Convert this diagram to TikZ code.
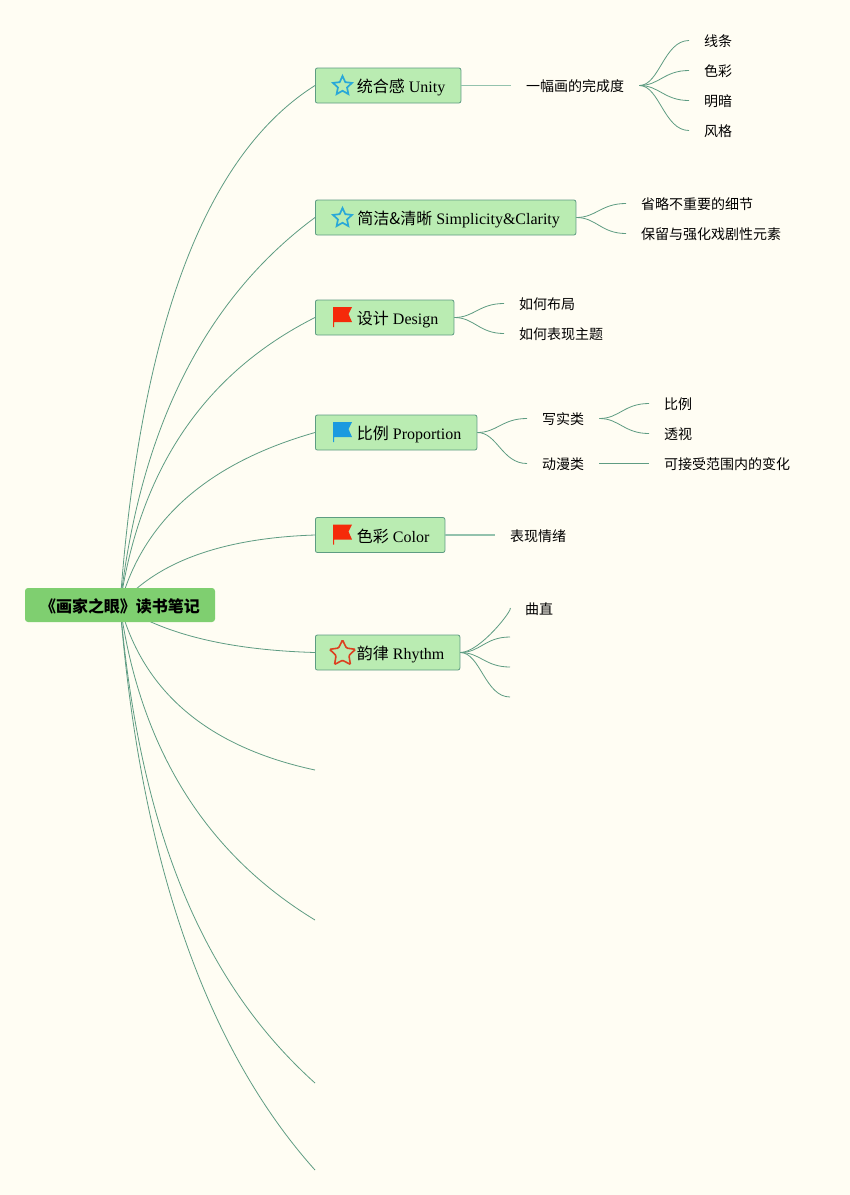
\documentclass[tikz,border=0pt]{standalone}
\usepackage{fontspec}
\setmainfont{Liberation Serif}
\newfontfamily\cjk{Noto Sans CJK SC}
\usetikzlibrary{shapes.geometric,calc}
\definecolor{bgc}{HTML}{FFFDF3}
\definecolor{linec}{HTML}{5E9C82}
\definecolor{stubc}{HTML}{93C2AD}
\definecolor{rootc}{HTML}{7FCF70}
\definecolor{topicc}{HTML}{BAECB2}
\definecolor{starblue}{HTML}{2AA8D8}
\definecolor{starred}{HTML}{DC4020}
\definecolor{flagred}{HTML}{F52A0A}
\definecolor{flagblue}{HTML}{1B9AE0}
\tikzset{
  x=1pt,y=-1pt,
  conn/.style={draw=linec,line width=0.8pt},
  stub/.style={draw=stubc,line width=1.2pt},
  rootbox/.style={fill=rootc,rounded corners=3pt,minimum width=190pt,minimum height=34pt,inner sep=0pt,text height=15pt,text depth=1pt,font=\fontsize{16}{16}\selectfont\cjk\bfseries},
  topicbox/.style={anchor=west,draw=linec,fill=topicc,line width=0.8pt,rounded corners=2pt,minimum height=35pt,inner sep=0pt,align=left,text height=15.4pt,text depth=1pt,font=\fontsize{16}{16}\selectfont},
  leaf/.style={anchor=west,inner xsep=15pt,inner ysep=2pt,text height=13.6pt,text depth=1pt,font=\fontsize{14}{14}\selectfont\cjk},
  starblueicon/.style={star,star points=5,star point ratio=2.1,draw=starblue,line width=1.7pt,minimum size=20pt,inner sep=0pt},
  starredicon/.style={star,star points=5,star point ratio=2.0,draw=starred,line width=1.6pt,rounded corners=1pt,minimum size=27pt,inner sep=0pt},
}
\newcommand{\flagicon}[3]{% x, y centre, colour
  \fill[#3] (#1-9.5,#2-10) -- (#1+9.5,#2-10) -- (#1+6,#2-3) -- (#1+9.5,#2+5) -- (#1-8.5,#2+5) -- (#1-8.5,#2+10) -- (#1-9.5,#2+10) -- cycle;
}
\begin{document}
\begin{tikzpicture}
\useasboundingbox[fill=bgc] (0,0) rectangle (850,1195);
% named free ends
\coordinate (e1) at (315,770);
\coordinate (e2) at (315,920);
\coordinate (e3) at (315,1083);
\coordinate (e4) at (315,1170);
\coordinate (r1) at (510,637);
\coordinate (r2) at (510,667);
\coordinate (r3) at (510,697);
\coordinate (hub) at (120,605);
% topics
\node[topicbox,minimum width=145.5pt] (t1) at (315,85.5) {\hspace{34pt}{\cjk 统合感} Unity\hspace{8pt}};
\node[topicbox,minimum width=260.5pt] (t2) at (315,217.5) {\hspace{34pt}{\cjk 简洁\&清晰} Simplicity\&Clarity\hspace{8pt}};
\node[topicbox,minimum width=138.5pt] (t3) at (315,317.5) {\hspace{34pt}{\cjk 设计} Design\hspace{8pt}};
\node[topicbox,minimum width=161.5pt] (t4) at (315,432.5) {\hspace{34pt}{\cjk 比例} Proportion\hspace{8pt}};
\node[topicbox,minimum width=129.5pt] (t5) at (315,535) {\hspace{34pt}{\cjk 色彩} Color\hspace{8pt}};
\node[topicbox,minimum width=144.5pt] (t6) at (315,652.5) {\hspace{34pt}{\cjk 韵律} Rhythm\hspace{8pt}};
% leaves
\node[leaf] (a) at (511,85.5) {一幅画的完成度};
\node[leaf] (a1) at (689,40.5) {线条};
\node[leaf] (a2) at (689,70.5) {色彩};
\node[leaf] (a3) at (689,100.5) {明暗};
\node[leaf] (a4) at (689,130.5) {风格};
\node[leaf] (b1) at (626,203.5) {省略不重要的细节};
\node[leaf] (b2) at (626,233.5) {保留与强化戏剧性元素};
\node[leaf] (c1) at (504,303.5) {如何布局};
\node[leaf] (c2) at (504,333.5) {如何表现主题};
\node[leaf] (d1) at (527,418.5) {写实类};
\node[leaf] (d2) at (527,463.5) {动漫类};
\node[leaf] (d11) at (649,403.5) {比例};
\node[leaf] (d12) at (649,433.5) {透视};
\node[leaf] (d21) at (649,463.5) {可接受范围内的变化};
\node[leaf] (f) at (495,535) {表现情绪};
\node[leaf] (g) at (510,608) {曲直};
% root connectors, drawn under the root
\draw[conn] (hub) .. controls (140,328) and (205,155) .. (t1.west);
\draw[conn] (hub) .. controls (140,428) and (205,299) .. (t2.west);
\draw[conn] (hub) .. controls (140,468) and (205,373) .. (t3.west);
\draw[conn] (hub) .. controls (143,520) and (208,463) .. (t4.west);
\draw[conn] (hub) .. controls (157,562) and (222,538) .. (t5.west);
\draw[conn] (hub) .. controls (163,634) and (228,650) .. (t6.west);
\draw[conn] (hub) .. controls (143,692) and (208,747) .. (e1);
\draw[conn] (hub) .. controls (140,748) and (205,853) .. (e2);
\draw[conn] (hub) .. controls (140,835) and (205,984) .. (e3);
\draw[conn] (hub) .. controls (140,858) and (205,1047) .. (e4);
\node[rootbox] (root) at (120,605) {《画家之眼》读书笔记};
% topic connectors
\draw[stub] (t1.east) -- (a.west);
\foreach \n in {a1,a2,a3,a4}{\draw[conn] (a.east) .. controls +(20,0) and ($(\n.west)+(-25,0)$) .. (\n.west);}
\foreach \n in {b1,b2}{\draw[conn] (t2.east) .. controls +(20,0) and ($(\n.west)+(-25,0)$) .. (\n.west);}
\foreach \n in {c1,c2}{\draw[conn] (t3.east) .. controls +(20,0) and ($(\n.west)+(-25,0)$) .. (\n.west);}
\foreach \n in {d1,d2}{\draw[conn] (t4.east) .. controls +(20,0) and ($(\n.west)+(-25,0)$) .. (\n.west);}
\foreach \n in {d11,d12}{\draw[conn] (d1.east) .. controls +(20,0) and ($(\n.west)+(-25,0)$) .. (\n.west);}
\draw[conn] (d2.east) -- (d21.west);
\draw[stub] (t5.east) -- (f.west);
\foreach \n in {g,r1,r2,r3}{\draw[conn] (t6.east) .. controls +(20,0) and ($(\n)+(-25,0)$) .. (\n);}
% icons
\node[starblueicon] (s1) at (342.5,86) {};
\node[starblueicon] (s2) at (342.5,218) {};
\node[starredicon] (s6) at (342.5,653.5) {};
\flagicon{342.5}{317}{flagred}
\flagicon{342.5}{432}{flagblue}
\flagicon{342.5}{534.5}{flagred}
\end{tikzpicture}
\end{document}
